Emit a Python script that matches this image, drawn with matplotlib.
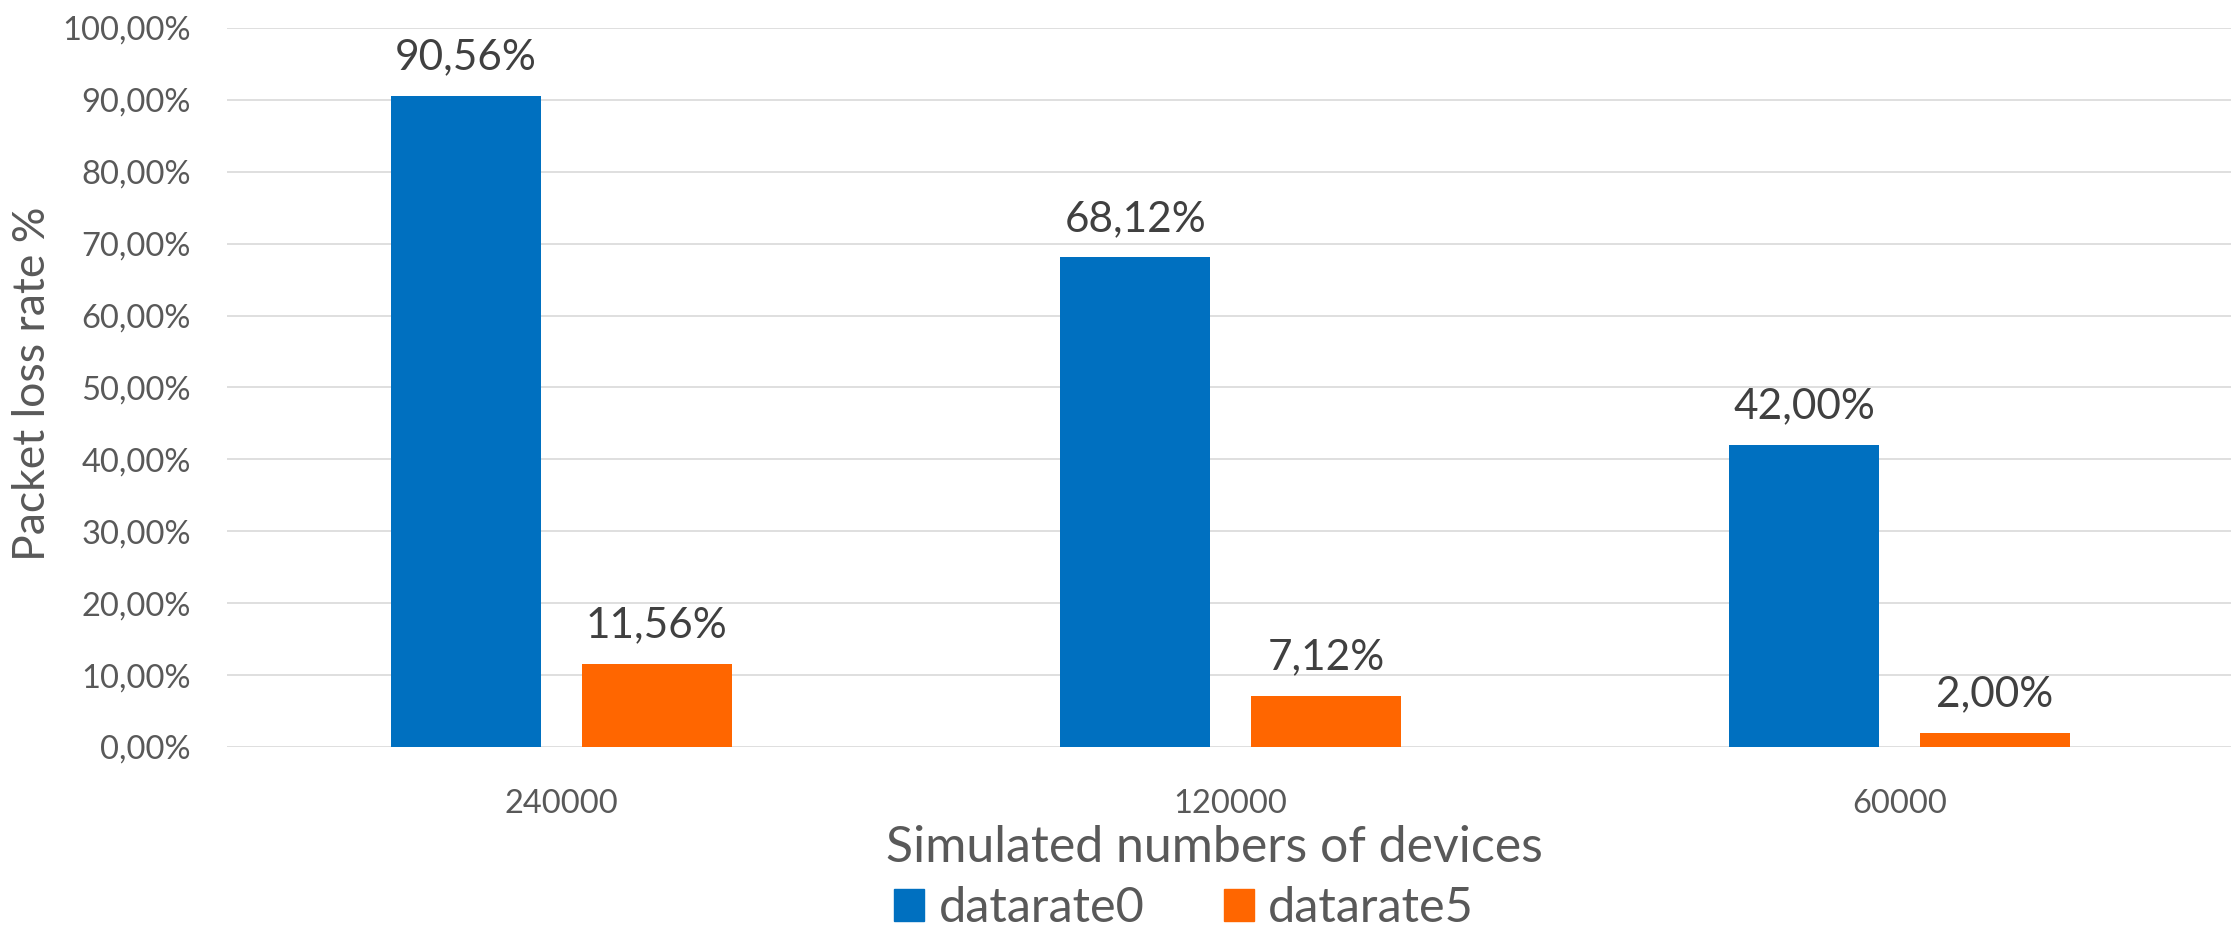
import numpy as np
import matplotlib
matplotlib.use("Agg")
import matplotlib.pyplot as plt
from matplotlib.patches import Patch

# packet loss per simulated device count
categories = ["240000", "120000", "60000"]
datarate0 = [90.56, 68.12, 42.00]
datarate5 = [11.56, 7.12, 2.00]
series_names = ["datarate0", "datarate5"]
yticks = [0, 10, 20, 30, 40, 50, 60, 70, 80, 90, 100]

BLUE = "#0070C0"
ORANGE = "#FF6600"
GREY = "#595959"
DARK = "#404040"

plt.rcParams["font.family"] = ["Lato", "DejaVu Sans"]


def pct(v):
    # excel style percent with decimal comma
    return f"{v:.2f}%".replace(".", ",")


fig = plt.figure(figsize=(22.31, 9.33), dpi=100)
ax = fig.add_axes([0.1017, 0.1994, 0.8998, 0.7706])

x = np.arange(len(categories))
width = 0.224
offset = 0.1425

bars0 = ax.bar(x - offset, datarate0, width, color=BLUE, zorder=3)
bars5 = ax.bar(x + offset, datarate5, width, color=ORANGE, zorder=3)

for bars, vals in ((bars0, datarate0), (bars5, datarate5)):
    for b, v in zip(bars, vals):
        ax.annotate(pct(v), (b.get_x() + b.get_width() / 2, v),
                    xytext=(0, 19), textcoords="offset points",
                    ha="center", va="baseline", fontsize=30.5, color=DARK)

ax.set_xlim(-0.5, len(categories) - 0.5)
ax.set_ylim(0, 100)
ax.set_yticks(yticks)
ax.set_yticklabels([pct(t) for t in yticks])
ax.set_xticks(x)
ax.set_xticklabels(categories)
ax.tick_params(axis="both", length=0, labelsize=23.5, labelcolor=GREY)
ax.tick_params(axis="y", pad=26)
ax.tick_params(axis="x", pad=30)

ax.grid(axis="y", color="#D9D9D9", linewidth=1.2, zorder=0)
for s in ax.spines.values():
    s.set_visible(False)

ax.set_xlabel("Simulated numbers of devices", fontsize=36, color=GREY, va="center")
ax.xaxis.set_label_coords(0.4917, -0.141)
ax.set_ylabel("Packet loss rate %", fontsize=32, color=GREY, va="center")
ax.yaxis.set_label_coords(-0.0966, 0.505)

handles = [Patch(color=BLUE), Patch(color=ORANGE)]
fig.legend(handles, series_names, loc="center", bbox_to_anchor=(0.5307, 0.0268),
           ncol=2, frameon=False, fontsize=35, labelcolor=GREY,
           handlelength=0.62, handleheight=0.62, handletextpad=0.29,
           columnspacing=1.63)

fig.savefig("out.png", dpi=100)
